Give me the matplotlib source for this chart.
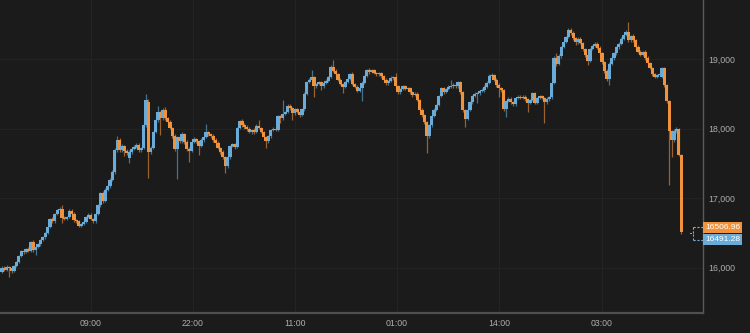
"""Candlestick chart of a price series (dark theme), last price tags on the right."""

#%% Imports
import matplotlib
matplotlib.use('Agg')
import matplotlib.pyplot as plt
import matplotlib.transforms as mtransforms
from matplotlib.lines import Line2D
from matplotlib.patches import Rectangle
from matplotlib.ticker import StrMethodFormatter
import numpy as np

#%% Data

opens = [15940, 16000, 15970, 16010, 15995, 15955, 16025, 16085, 16170, 16240,
         16225, 16270, 16240, 16370, 16255, 16300, 16340, 16400, 16440, 16500,
         16585, 16700, 16670, 16775, 16830, 16845, 16715, 16700, 16730, 16815,
         16775, 16685, 16670, 16600, 16630, 16660, 16730, 16760, 16700, 16670,
         16775, 16900, 17075, 16960, 17120, 17175, 17260, 17375, 17690, 17835,
         17690, 17750, 17680, 17580, 17665, 17705, 17735, 17765, 17690, 17720,
         18050, 18380, 17665, 17720, 17950, 18125, 18240, 18150, 18265, 18150,
         18095, 18010, 17895, 17705, 17880, 17820, 17920, 17805, 17705, 17680,
         17805, 17850, 17820, 17750, 17835, 17880, 17950, 17920, 17895, 17835,
         17795, 17720, 17665, 17590, 17465, 17590, 17750, 17780, 17735, 18010,
         18110, 18050, 18025, 17995, 17950, 17980, 17950, 18040, 18010, 17950,
         17880, 17820, 17895, 17980, 17995, 17980, 18180, 18150, 18210, 18240,
         18325, 18295, 18225, 18280, 18240, 18195, 18280, 18500, 18670, 18700,
         18740, 18610, 18640, 18670, 18610, 18655, 18685, 18740, 18885, 18830,
         18785, 18700, 18640, 18600, 18670, 18715, 18785, 18640, 18600, 18540,
         18585, 18655, 18755, 18840, 18815, 18840, 18800, 18785, 18800, 18755,
         18700, 18655, 18685, 18725, 18740, 18610, 18525, 18570, 18610, 18570,
         18585, 18525, 18485, 18495, 18410, 18265, 18195, 18095, 17895, 18050,
         18180, 18265, 18340, 18470, 18585, 18525, 18570, 18600, 18610, 18625,
         18610, 18670, 18525, 18265, 18140, 18265, 18380, 18470, 18500, 18510,
         18540, 18555, 18600, 18655, 18755, 18770, 18700, 18625, 18585, 18555,
         18280, 18395, 18425, 18380, 18355, 18440, 18455, 18440, 18455, 18425,
         18370, 18410, 18510, 18370, 18440, 18470, 18440, 18380, 18425, 18455,
         18655, 19015, 18930, 19045, 19175, 19245, 19315, 19415, 19375, 19300,
         19245, 19290, 19230, 19145, 19060, 18970, 19145, 19185, 19215, 19160,
         19085, 18955, 18830, 18715, 18930, 19015, 19085, 19175, 19215, 19290,
         19345, 19390, 19275, 19330, 19275, 19175, 19100, 19060, 19100, 19015,
         18945, 18870, 18785, 18740, 18770, 18740, 18870, 18625, 18395, 17965,
         17835, 17965, 17995, 17620]

closes = [16000, 15970, 16010, 15995, 15955, 16025, 16085, 16170, 16240, 16225,
          16270, 16240, 16370, 16255, 16300, 16340, 16400, 16440, 16500, 16585,
          16700, 16670, 16775, 16830, 16845, 16715, 16700, 16730, 16815, 16775,
          16685, 16670, 16600, 16630, 16660, 16730, 16760, 16700, 16670, 16775,
          16900, 17075, 16960, 17120, 17175, 17260, 17375, 17690, 17835, 17690,
          17750, 17680, 17650, 17665, 17705, 17735, 17765, 17690, 17720, 18050,
          18410, 17665, 17720, 17950, 18125, 18240, 18150, 18265, 18150, 18095,
          18010, 17895, 17705, 17880, 17820, 17920, 17805, 17705, 17680, 17805,
          17850, 17820, 17750, 17835, 17880, 17950, 17920, 17895, 17835, 17795,
          17720, 17665, 17590, 17465, 17590, 17750, 17780, 17735, 18010, 18110,
          18050, 18025, 17995, 17950, 17980, 17950, 18040, 18010, 17950, 17880,
          17820, 17895, 17980, 17995, 17980, 18180, 18150, 18210, 18240, 18325,
          18295, 18225, 18280, 18240, 18195, 18280, 18500, 18670, 18700, 18740,
          18610, 18640, 18670, 18610, 18655, 18685, 18740, 18885, 18830, 18785,
          18700, 18640, 18600, 18670, 18715, 18785, 18640, 18600, 18540, 18585,
          18655, 18755, 18840, 18815, 18840, 18800, 18785, 18800, 18755, 18700,
          18655, 18685, 18725, 18740, 18610, 18525, 18570, 18610, 18570, 18585,
          18525, 18485, 18495, 18410, 18265, 18195, 18095, 17895, 18050, 18180,
          18265, 18340, 18470, 18585, 18525, 18570, 18600, 18610, 18625, 18610,
          18670, 18525, 18265, 18140, 18265, 18380, 18470, 18500, 18510, 18540,
          18555, 18600, 18655, 18755, 18770, 18700, 18625, 18585, 18555, 18280,
          18395, 18425, 18380, 18355, 18440, 18455, 18440, 18455, 18425, 18370,
          18410, 18510, 18370, 18440, 18470, 18440, 18380, 18425, 18455, 18655,
          19015, 18930, 19045, 19175, 19245, 19315, 19415, 19375, 19300, 19245,
          19290, 19230, 19145, 19060, 18970, 19145, 19185, 19215, 19160, 19085,
          18955, 18830, 18715, 18930, 19015, 19085, 19175, 19215, 19290, 19345,
          19390, 19275, 19330, 19275, 19175, 19100, 19060, 19100, 19015, 18945,
          18870, 18785, 18740, 18770, 18785, 18870, 18625, 18395, 17965, 17835,
          17965, 17995, 17620, 16506.96]

highs = [16020, 16030, 16040, 16030, 16010, 16045, 16100, 16190, 16260, 16270,
         16290, 16300, 16390, 16400, 16320, 16360, 16420, 16460, 16520, 16600,
         16720, 16730, 16790, 16850, 16880, 16900, 16740, 16750, 16840, 16850,
         16800, 16700, 16690, 16650, 16680, 16750, 16790, 16780, 16720, 16800,
         16920, 17090, 17100, 17140, 17200, 17290, 17400, 17720, 17890, 17860,
         17780, 17770, 17700, 17690, 17730, 17760, 17790, 17790, 17740, 18080,
         18500, 18420, 17750, 17970, 18150, 18330, 18260, 18290, 18310, 18170,
         18120, 18030, 17920, 17900, 17900, 17950, 17940, 17830, 17730, 17830,
         17880, 17870, 17840, 17860, 17900, 18065, 17970, 17940, 17920, 17860,
         17820, 17740, 17690, 17610, 17610, 17770, 17800, 17800, 18030, 18130,
         18140, 18080, 18050, 18020, 18000, 18010, 18060, 18125, 18030, 17970,
         17900, 17910, 18000, 18020, 18010, 18200, 18200, 18410, 18260, 18350,
         18350, 18310, 18300, 18300, 18260, 18300, 18520, 18690, 18730, 18840,
         18760, 18660, 18690, 18690, 18680, 18710, 18760, 18910, 18985, 18850,
         18800, 18720, 18660, 18690, 18740, 18800, 18820, 18660, 18620, 18600,
         18680, 18770, 18860, 18870, 18860, 18860, 18820, 18820, 18820, 18770,
         18720, 18700, 18750, 18760, 18800, 18630, 18590, 18630, 18630, 18600,
         18600, 18545, 18520, 18520, 18430, 18290, 18210, 18110, 18070, 18200,
         18290, 18360, 18490, 18600, 18600, 18590, 18620, 18700, 18650, 18650,
         18690, 18690, 18540, 18280, 18290, 18400, 18490, 18520, 18530, 18560,
         18580, 18620, 18680, 18780, 18800, 18790, 18720, 18650, 18600, 18570,
         18410, 18450, 18450, 18400, 18460, 18480, 18480, 18480, 18480, 18440,
         18430, 18530, 18530, 18460, 18490, 18490, 18460, 18450, 18470, 18670,
         19040, 19085, 19070, 19190, 19260, 19330, 19440, 19450, 19400, 19320,
         19310, 19310, 19250, 19160, 19080, 19160, 19200, 19240, 19240, 19180,
         19100, 18970, 18850, 18950, 19030, 19100, 19190, 19240, 19310, 19370,
         19410, 19530, 19350, 19360, 19290, 19200, 19130, 19120, 19130, 19040,
         18960, 18890, 18800, 18790, 18810, 18890, 18890, 18640, 18410, 17980,
         17990, 18020, 18010, 17640]

lows = [15920, 15950, 15950, 15870, 15930, 15940, 16010, 16070, 16150, 16200,
        16210, 16220, 16230, 16230, 16180, 16280, 16320, 16380, 16420, 16480,
        16570, 16650, 16650, 16760, 16810, 16640, 16680, 16680, 16710, 16750,
        16660, 16640, 16580, 16580, 16610, 16640, 16710, 16680, 16650, 16650,
        16760, 16880, 16930, 16940, 17100, 17150, 17240, 17350, 17670, 17660,
        17670, 17600, 17620, 17505, 17640, 17690, 17720, 17670, 17660, 17700,
        18030, 17290, 17640, 17700, 17930, 18100, 17910, 18130, 18130, 18070,
        17990, 17870, 17680, 17275, 17800, 17800, 17780, 17680, 17520, 17660,
        17790, 17800, 17620, 17730, 17810, 17860, 17900, 17870, 17810, 17770,
        17700, 17640, 17560, 17360, 17440, 17570, 17730, 17710, 17720, 17990,
        18030, 18000, 17970, 17930, 17920, 17920, 17930, 17990, 17930, 17860,
        17720, 17800, 17870, 17960, 17960, 17960, 18080, 18130, 18190, 18220,
        18270, 18125, 18200, 18220, 18165, 18180, 18260, 18480, 18650, 18680,
        18455, 18590, 18620, 18555, 18590, 18640, 18670, 18720, 18810, 18760,
        18680, 18620, 18510, 18580, 18650, 18700, 18620, 18580, 18520, 18520,
        18395, 18640, 18740, 18790, 18800, 18780, 18760, 18760, 18730, 18680,
        18630, 18630, 18670, 18700, 18590, 18500, 18500, 18550, 18550, 18550,
        18500, 18460, 18470, 18390, 18240, 18170, 18070, 17650, 17870, 18030,
        18160, 18250, 18320, 18450, 18500, 18510, 18550, 18580, 18590, 18590,
        18590, 18500, 18240, 18025, 18120, 18250, 18360, 18450, 18365, 18490,
        18520, 18530, 18580, 18640, 18730, 18680, 18600, 18455, 18530, 18250,
        18165, 18380, 18360, 18330, 18330, 18420, 18420, 18420, 18400, 18240,
        18350, 18390, 18350, 18350, 18420, 18420, 18080, 18360, 18400, 18430,
        18640, 18900, 18910, 19020, 19160, 19230, 19300, 19350, 19280, 19200,
        19220, 19210, 19120, 19030, 18920, 18950, 19130, 19170, 19140, 19060,
        18930, 18800, 18690, 18625, 18910, 18990, 19060, 19150, 19200, 19270,
        19330, 19250, 19250, 19250, 19150, 19080, 19040, 19040, 18990, 18920,
        18850, 18760, 18720, 18720, 18750, 18720, 18600, 18370, 17190, 17590,
        17810, 17940, 17600, 16480]

# last traded price (orange tag) and current bid (blue tag)
last_price = 16506.96
last_bid = 16491.28

# time axis labels, placed on the candle index scale
x_tick_labels = ['09:00', '22:00', '11:00', '01:00', '14:00', '03:00']
x_tick_pos = [36.9, 79.4, 121.9, 164.4, 207.2, 249.9]
y_ticks = [16000, 17000, 18000, 19000]

#%% Style

bg = '#1b1b1b'
grid_col = '#232323'
text_col = '#adadad'
up_col = '#6aacd7'
down_col = '#f0933c'

plt.rcParams['font.family'] = ['Liberation Sans', 'DejaVu Sans']

#%% Plot

o = np.array(opens, dtype=float)
c = np.array(closes, dtype=float)
h = np.array(highs, dtype=float)
l = np.array(lows, dtype=float)
x = np.arange(len(o))
up = c >= o
cols = np.where(up, up_col, down_col)

fig = plt.figure(figsize=(7.5, 3.33), dpi=100, facecolor=bg)
ax = fig.add_axes([0, 0.0592, 703 / 750, 1 - 0.0592])
ax.set_facecolor(bg)

# wicks then bodies
ax.vlines(x, l, h, colors=cols, linewidth=0.9, alpha=0.6, zorder=2)
body = np.abs(c - o)
body = np.maximum(body, 12)  # doji still gets a visible line
ax.bar(x, body, bottom=np.minimum(o, c), width=1.3, color=cols,
       linewidth=0, zorder=3)

# current (incomplete) candle: tiny blue tick at the bid
ax.bar(len(o) + 3, 14, bottom=last_bid - 7, width=0.9, color=up_col,
       linewidth=0, zorder=3)

ax.set_xlim(-0.83, 292.1)
ax.set_ylim(15346, 19848)

ax.set_xticks(x_tick_pos)
ax.set_xticklabels(x_tick_labels)
ax.set_yticks(y_ticks)
ax.yaxis.set_major_formatter(StrMethodFormatter('{x:,.0f}'))
ax.yaxis.tick_right()
ax.tick_params(axis='x', length=0, pad=4, labelsize=6.3, colors=text_col)
ax.tick_params(axis='y', length=0, pad=4, labelsize=6.3, colors=text_col)

ax.grid(True, color=grid_col, linewidth=0.8)
ax.set_axisbelow(True)

for side in ['top', 'left']:
    ax.spines[side].set_visible(False)
ax.spines['bottom'].set_color('#4f4f4f')
ax.spines['bottom'].set_linewidth(1.6)
ax.spines['right'].set_color('#5a5a5a')
ax.spines['right'].set_linewidth(1.0)

#%% Price tags on the right axis (drawn in pixel space)

fig.canvas.draw()
ident = mtransforms.IdentityTransform()
x_right = ax.transAxes.transform((1, 0))[0]
y_last = ax.transData.transform((0, last_price))[1]
y_bid = ax.transData.transform((0, last_bid))[1]

tag_w, tag_h = 39, 11
tags = [(y_last + 5, down_col, last_price), (y_bid - 6, up_col, last_bid)]
for yc, col, val in tags:
    fig.patches.append(Rectangle((x_right, yc - tag_h / 2), tag_w, tag_h,
                                 transform=ident, facecolor=col,
                                 edgecolor='none', zorder=5))
    fig.text(x_right + tag_w / 2, yc, '{:.2f}'.format(val), transform=ident,
             ha='center', va='center', fontsize=6, color='white', zorder=6)
    fig.lines.append(Line2D([x_right - 10, x_right], [yc, yc], transform=ident,
                            color=col, linewidth=0.8, linestyle=(0, (2, 1.5)),
                            zorder=5))

# short dashed connector between the two tags
y_mid = (tags[0][0] + tags[1][0]) / 2
fig.lines.append(Line2D([x_right - 10, x_right - 10], [tags[0][0], y_mid],
                        transform=ident, color=down_col, linewidth=0.8,
                        linestyle=(0, (2, 1.5)), zorder=5))
fig.lines.append(Line2D([x_right - 10, x_right - 10], [y_mid, tags[1][0]],
                        transform=ident, color=up_col, linewidth=0.8,
                        linestyle=(0, (2, 1.5)), zorder=5))

fig.savefig('out.png', dpi=100, facecolor=bg)
